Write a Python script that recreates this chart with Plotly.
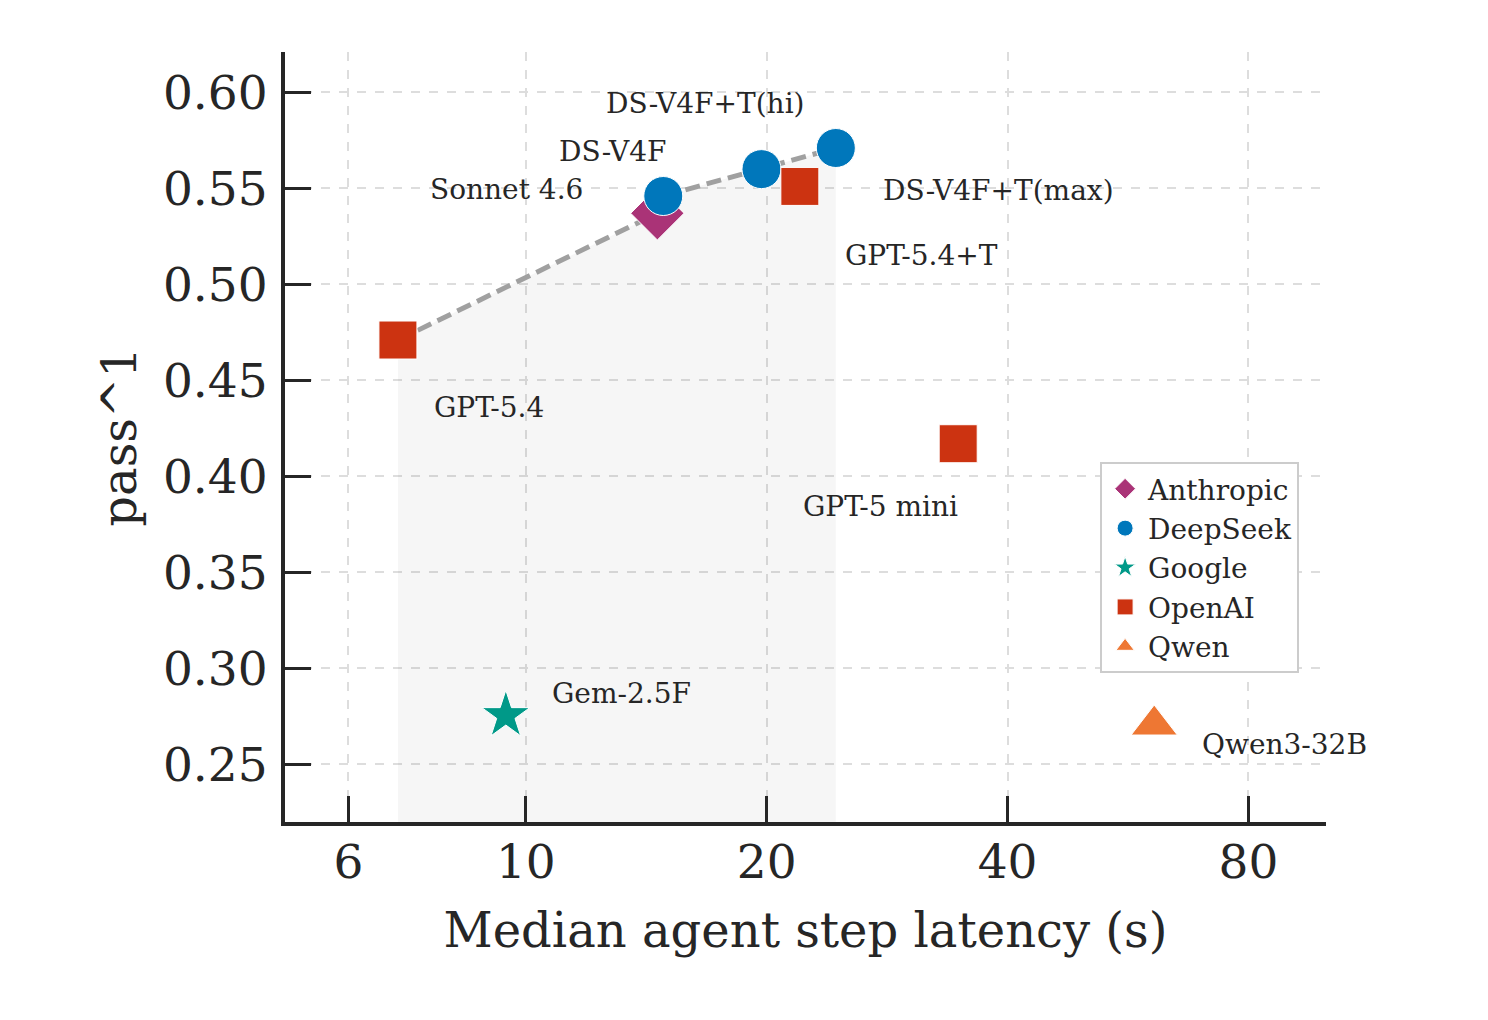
import plotly.graph_objects as go
import numpy as np

# ---- data ----
models = ["GPT-5.4", "GPT-5.4+T", "GPT-5 mini", "Sonnet 4.6", "DS-V4F",
          "DS-V4F+T(hi)", "DS-V4F+T(max)", "Gem-2.5F", "Qwen3-32B"]
providers = ["OpenAI", "OpenAI", "OpenAI", "Anthropic", "DeepSeek",
             "DeepSeek", "DeepSeek", "Google", "Qwen"]
latency_s = [6.92, 22.0, 34.7, 14.6, 14.85, 19.7, 24.4, 9.44, 61.0]
pass_1 = [0.471, 0.551, 0.417, 0.537, 0.546, 0.560, 0.571, 0.2755, 0.2705]

provider_order = ["Anthropic", "DeepSeek", "Google", "OpenAI", "Qwen"]
x_tick_vals = [6, 10, 20, 40, 80]
y_tick_vals = [0.25, 0.30, 0.35, 0.40, 0.45, 0.50, 0.55, 0.60]

# ---- styles ----
FONT = "DejaVu Serif"
INK = "#262626"
style = {
    "Anthropic": dict(color="#AA3377", symbol="diamond", size=41),
    "DeepSeek": dict(color="#0077BB", symbol="circle", size=39),
    "Google": dict(color="#009988", symbol="star", size=36),
    "OpenAI": dict(color="#CC3311", symbol="square", size=38),
    "Qwen": dict(color="#EE7733", symbol="triangle-up", size=40),
}
# label offsets in pixels (dx right, dy down) relative to the point
label_offset = {
    "GPT-5.4": (91, 67), "GPT-5.4+T": (122, 69), "GPT-5 mini": (-78, 63),
    "Sonnet 4.6": (-151, -24), "DS-V4F": (-50, -45), "DS-V4F+T(hi)": (-56, -66),
    "DS-V4F+T(max)": (163, 42), "Gem-2.5F": (116, -22), "Qwen3-32B": (130, 19),
}

fig = go.Figure()

# Pareto frontier (lower latency, higher pass^1)
order = np.argsort(latency_s)
fx, fy, best = [], [], -1.0
for i in order:
    if pass_1[i] > best:
        best = pass_1[i]
        fx.append(latency_s[i])
        fy.append(pass_1[i])

fig.add_trace(go.Scatter(
    x=fx, y=fy, mode="lines", fill="tozeroy",
    fillcolor="rgba(0,0,0,0.035)",
    line=dict(color="#a0a0a0", width=5, dash="15px,7px"),
    showlegend=False, hoverinfo="skip"))

for p in provider_order:
    idx = [i for i, q in enumerate(providers) if q == p]
    s = style[p]
    fig.add_trace(go.Scatter(
        x=[latency_s[i] for i in idx], y=[pass_1[i] for i in idx],
        mode="markers", name=p,
        marker=dict(color=s["color"], symbol=s["symbol"], size=s["size"],
                    line=dict(color="white", width=1)),
    ))

for m, x, y in zip(models, latency_s, pass_1):
    dx, dy = label_offset[m]
    fig.add_annotation(x=np.log10(x), y=y, text=m, showarrow=False,
                       xshift=dx, yshift=-dy, xanchor="center", yanchor="middle",
                       font=dict(family=FONT, size=28, color=INK))

fig.update_layout(
    width=1488, height=1020,
    margin=dict(l=285, r=162, t=52, b=198),
    paper_bgcolor="white", plot_bgcolor="white",
    font=dict(family=FONT, color=INK),
    legend=dict(x=0.783, y=0.4675, xanchor="left", yanchor="top",
                bgcolor="white", bordercolor="#cccccc", borderwidth=2,
                font=dict(family=FONT, size=28, color=INK),
                itemsizing="trace", itemwidth=36),
)
fig.update_xaxes(
    type="log", range=[np.log10(5), np.log10(100)],
    tickvals=x_tick_vals, ticktext=[str(v) for v in x_tick_vals],
    ticks="inside", ticklen=26, tickwidth=3, tickcolor=INK,
    showline=True, linewidth=4, linecolor=INK, mirror=False,
    showgrid=True, gridcolor="#dddddd", gridwidth=2, griddash="dash",
    zeroline=False, ticklabelstandoff=-4,
    tickfont=dict(family=FONT, size=47, color=INK),
    title=dict(text="Median agent step latency (s)", standoff=26,
               font=dict(family=FONT, size=48, color=INK)),
)
fig.update_yaxes(
    range=[0.22, 0.621],
    tickvals=y_tick_vals, ticktext=[f"{v:.2f}" for v in y_tick_vals],
    ticks="inside", ticklen=26, tickwidth=3, tickcolor=INK,
    showline=True, linewidth=4, linecolor=INK, mirror=False,
    showgrid=True, gridcolor="#dddddd", gridwidth=2, griddash="dash",
    zeroline=False, ticklabelstandoff=4,
    tickfont=dict(family=FONT, size=47, color=INK),
    title=dict(text="pass^1", standoff=12,
               font=dict(family=FONT, size=48, color=INK)),
)

fig.write_html("out.html")
